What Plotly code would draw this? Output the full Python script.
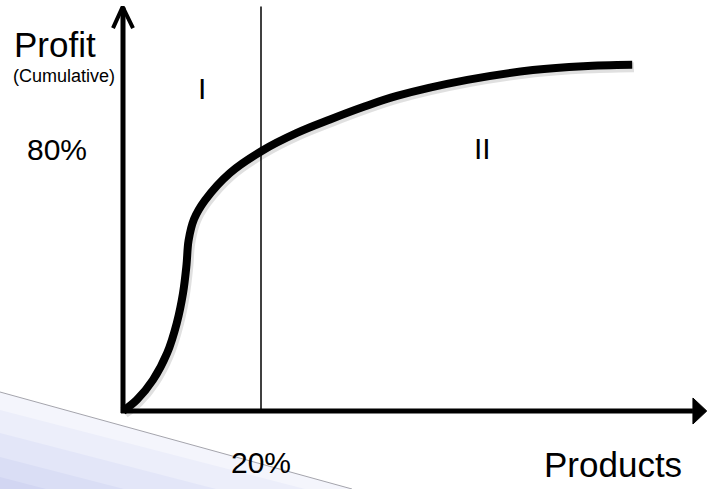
import plotly.graph_objects as go

# Cumulative profit vs. share of products (both in %)
share_pct = [0, 2.0, 4.35, 6.4, 7.8, 8.7, 9.2, 9.5, 10.3, 11.9, 15.5, 20.1,
             25.2, 30.0, 34.8, 39.7, 49.9, 59.4, 66.7, 73.8]
profit_pct = [0, 3.4, 9.5, 17.7, 26.9, 36.0, 44.5, 52.0, 58.6, 64.4, 72.7, 79.4,
              84.9, 89.0, 92.8, 96.2, 101.1, 104.1, 105.3, 105.7]

cutoff_share = 20      # vertical divider between zone I and zone II
cutoff_profit = 80
tick_labels = ["20%", "80%"]
zone_labels = ["I", "II"]

# axis extents (data units)
x_end, x_tip = 82.6, 84.6
y_end = 123.2

W, H = 708, 489
FONT = "Liberation Sans, Arial, sans-serif"

fig = go.Figure()


def px_paper(pts):
    """pixel polygon -> SVG path in paper coordinates"""
    return "M " + " L ".join(f"{x / W:.4f},{1 - y / H:.4f}" for x, y in pts) + " Z"


# soft lavender wedge in the lower-left corner
bands = [
    ([(0, 392), (352, 489), (0, 489)], "#f4f5fc"),
    ([(0, 410), (305, 489), (0, 489)], "#eceefa"),
    ([(0, 433), (216, 489), (0, 489)], "#e3e6f8"),
    ([(0, 457), (124, 489), (0, 489)], "#dadef5"),
    ([(0, 477), (46, 489), (0, 489)], "#d2d6f2"),
]
shapes = []
for pts, col in bands:
    shapes.append(dict(type="path", xref="paper", yref="paper", path=px_paper(pts),
                       fillcolor=col, line=dict(width=0), layer="below"))
shapes.append(dict(type="line", xref="paper", yref="paper",
                   x0=0, y0=1 - 392 / H, x1=352 / W, y1=1 - 489 / H,
                   line=dict(color="#a4a4ac", width=1), layer="below"))

# divider at 20% of products
fig.add_trace(go.Scatter(x=[cutoff_share, cutoff_share], y=[0, y_end + 0.3], mode="lines",
                         line=dict(color="black", width=1.5), hoverinfo="skip"))

# curve shadow + curve
fig.add_trace(go.Scatter(x=[v + 0.25 for v in share_pct], y=[v - 0.7 for v in profit_pct],
                         mode="lines",
                         line=dict(color="rgba(0,0,0,0.12)", width=10, shape="spline", smoothing=1.0),
                         hoverinfo="skip"))
fig.add_trace(go.Scatter(x=share_pct, y=profit_pct, mode="lines",
                         line=dict(color="black", width=8, shape="spline", smoothing=1.0),
                         hoverinfo="skip"))

# axes
fig.add_trace(go.Scatter(x=[0, 0], y=[-0.6, y_end], mode="lines",
                         line=dict(color="black", width=5), hoverinfo="skip"))
fig.add_trace(go.Scatter(x=[-1.45, -0.05, 1.45], y=[116.9, 123.4, 116.9], mode="lines",
                         line=dict(color="black", width=4), hoverinfo="skip"))
fig.add_trace(go.Scatter(x=[-0.3, x_end], y=[0, 0], mode="lines",
                         line=dict(color="black", width=5), hoverinfo="skip"))
fig.add_trace(go.Scatter(x=[x_end, x_tip, x_end, x_end], y=[3.97, 0, -3.97, 3.97], mode="lines",
                         fill="toself", fillcolor="black", line=dict(color="black", width=1),
                         hoverinfo="skip"))

ann = [
    dict(x=-9.86, y=111.9, text="Profit", size=35),
    dict(x=-8.48, y=102.3, text="(Cumulative)", size=18),
    dict(x=11.45, y=98.6, text=zone_labels[0], size=30),
    dict(x=52.17, y=80.3, text=zone_labels[1], size=30),
    dict(x=-9.57, y=cutoff_profit, text=tick_labels[1], size=30),
    dict(x=cutoff_share, y=-15.6, text=tick_labels[0], size=30),
    dict(x=71.0, y=-16.3, text="Products", size=35),
]
annotations = [dict(x=a["x"], y=a["y"], xref="x", yref="y", text=a["text"], showarrow=False,
                    xanchor="center", yanchor="middle",
                    font=dict(family=FONT, size=a["size"], color="black")) for a in ann]

fig.update_layout(
    width=W, height=H, margin=dict(l=0, r=0, t=0, b=0),
    paper_bgcolor="white", plot_bgcolor="rgba(0,0,0,0)",
    showlegend=False, shapes=shapes, annotations=annotations,
    xaxis=dict(range=[-123 / 6.9, 585 / 6.9], visible=False, fixedrange=True),
    yaxis=dict(range=[-78 / 3.275, 411 / 3.275], visible=False, fixedrange=True),
)

fig.write_html("out.html")
